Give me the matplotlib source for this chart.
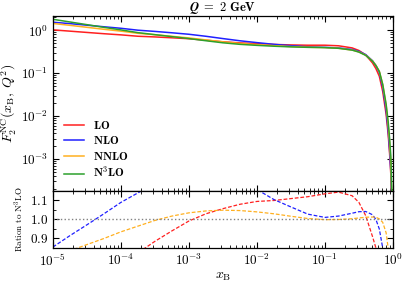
import numpy as np
import matplotlib
matplotlib.use('Agg')
from matplotlib import pyplot as plt
from matplotlib.ticker import LogLocator, FixedLocator, AutoMinorLocator, NullFormatter, FuncFormatter

plt.rcParams['mathtext.fontset'] = 'cm'
plt.rcParams['font.family'] = ['serif']
plt.rcParams['font.serif'] = ['cmr10', 'DejaVu Serif']
plt.rcParams['axes.formatter.use_mathtext'] = True

logx = [-5, -4.75, -4.5, -4.25, -4, -3.75, -3.5, -3.25, -3, -2.75, -2.5, -2.25,
        -2, -1.75, -1.5, -1.25, -1, -0.8, -0.6, -0.5, -0.4, -0.3, -0.25, -0.2,
        -0.15, -0.1, -0.07, -0.05, -0.03, -0.015, -0.005]

# N3LO structure function F2
f2_n3lo = [1.80, 1.56, 1.35, 1.17, 1.02, 0.88, 0.79, 0.71, 0.64, 0.57, 0.51, 0.47,
           0.445, 0.425, 0.41, 0.40, 0.395, 0.38, 0.345, 0.31, 0.26, 0.19, 0.15, 0.11,
           0.055, 0.019, 0.0075, 0.0032, 0.0011, 1.5e-4, 1e-5]

# ratios to N3LO
r_lo = [0.567, 0.611, 0.659, 0.71, 0.766, 0.824, 0.885, 0.94, 0.992, 1.03, 1.057, 1.08,
        1.095, 1.10, 1.11, 1.12, 1.135, 1.144, 1.125, 1.09, 1.02, 0.91, 0.85, 0.77,
        0.68, 0.58, 0.50, 0.45, 0.38, 0.30, 0.20]
r_nlo = [0.855, 0.915, 0.972, 1.03, 1.09, 1.14, 1.19, 1.23, 1.26, 1.27, 1.255, 1.21,
         1.158, 1.105, 1.066, 1.028, 1.011, 1.018, 1.033, 1.041, 1.042, 1.025, 1.0, 0.95,
         0.85, 0.72, 0.62, 0.54, 0.45, 0.36, 0.27]
r_nnlo = [0.80, 0.835, 0.868, 0.90, 0.935, 0.965, 0.995, 1.018, 1.035, 1.045, 1.049, 1.047,
          1.04, 1.03, 1.017, 1.005, 0.999, 1.0, 1.004, 1.008, 1.012, 1.013, 1.012, 1.003,
          0.985, 0.93, 0.85, 0.78, 0.68, 0.57, 0.46]

labels = [r'$\mathbf{LO}$', r'$\mathbf{NLO}$', r'$\mathbf{NNLO}$', r'$\mathbf{N^3LO}$']
colors = ['#ff2020', '#2020ff', '#ffb020', '#2ca02c']

xb = 10.0 ** np.array(logx)
f2_n3lo = np.array(f2_n3lo)
ratios = [np.array(r_lo), np.array(r_nlo), np.array(r_nnlo), np.ones(len(logx))]

fig = plt.figure(figsize=(4.07, 2.84), dpi=100)
ax1 = fig.add_axes([0.130, 0.3275, 0.8354, 0.6162])
ax2 = fig.add_axes([0.130, 0.1268, 0.8354, 0.2007], sharex=ax1)

for r, c, lab in zip(ratios, colors, labels):
    ax1.plot(xb, f2_n3lo * r, color=c, lw=1.1, label=lab)
for r, c in zip(ratios[:3], colors[:3]):
    ax2.plot(xb, r, color=c, lw=0.9, ls='--', dashes=(3, 1.5))
ax2.axhline(1.0, color='gray', lw=1.0, ls=':')

ax1.set_xscale('log')
ax1.set_yscale('log')
ax1.set_xlim(1e-5, 1)
ax1.set_ylim(1.8e-4, 2.15)
ax2.set_ylim(0.85, 1.15)

def logfmt(v, pos):
    e = int(round(np.log10(v)))
    return r'$\mathbf{10^{%d}}$' % e

ax1.yaxis.set_major_locator(LogLocator(base=10, numticks=10))
ax1.yaxis.set_minor_locator(LogLocator(base=10, subs=np.arange(2, 10), numticks=10))
ax1.yaxis.set_major_formatter(FuncFormatter(logfmt))
ax1.yaxis.set_minor_formatter(NullFormatter())
ax2.xaxis.set_major_locator(LogLocator(base=10, numticks=10))
ax2.xaxis.set_minor_locator(LogLocator(base=10, subs=np.arange(2, 10), numticks=10))
ax2.xaxis.set_major_formatter(FuncFormatter(logfmt))
ax2.xaxis.set_minor_formatter(NullFormatter())
ax2.yaxis.set_major_locator(FixedLocator([0.9, 1.0, 1.1]))
ax2.yaxis.set_major_formatter(FuncFormatter(lambda v, p: r'$\mathbf{%.1f}$' % v))
ax2.yaxis.set_minor_locator(AutoMinorLocator(2))
plt.setp(ax1.get_xticklabels(), visible=False)

for ax in (ax1, ax2):
    ax.tick_params(which='both', direction='in', top=True, right=True, labelsize=9.5)
    ax.tick_params(which='major', length=4.5, width=0.8)
    ax.tick_params(which='minor', length=2.5, width=0.6)
    for s in ax.spines.values():
        s.set_linewidth(0.9)

ax1.set_title(r'$\boldsymbol{Q}\ \mathbf{=\ 2\ GeV}$', fontsize=9, pad=2)
ax1.set_ylabel(r'$\boldsymbol{F_2^{\mathrm{NC}}(x_{\mathrm{B}},\, Q^2)}$', fontsize=10, labelpad=2)
ax2.set_ylabel(r'Ration to N$^3$LO', fontsize=6.5, labelpad=3)
ax2.set_xlabel(r'$\boldsymbol{x_{\mathrm{B}}}$', fontsize=10, labelpad=1)

ax1.legend(loc='lower left', frameon=False, fontsize=8.5, handlelength=1.7,
           handletextpad=0.8, labelspacing=0.3, borderaxespad=0.5)

fig.savefig('out.png', dpi=100)
